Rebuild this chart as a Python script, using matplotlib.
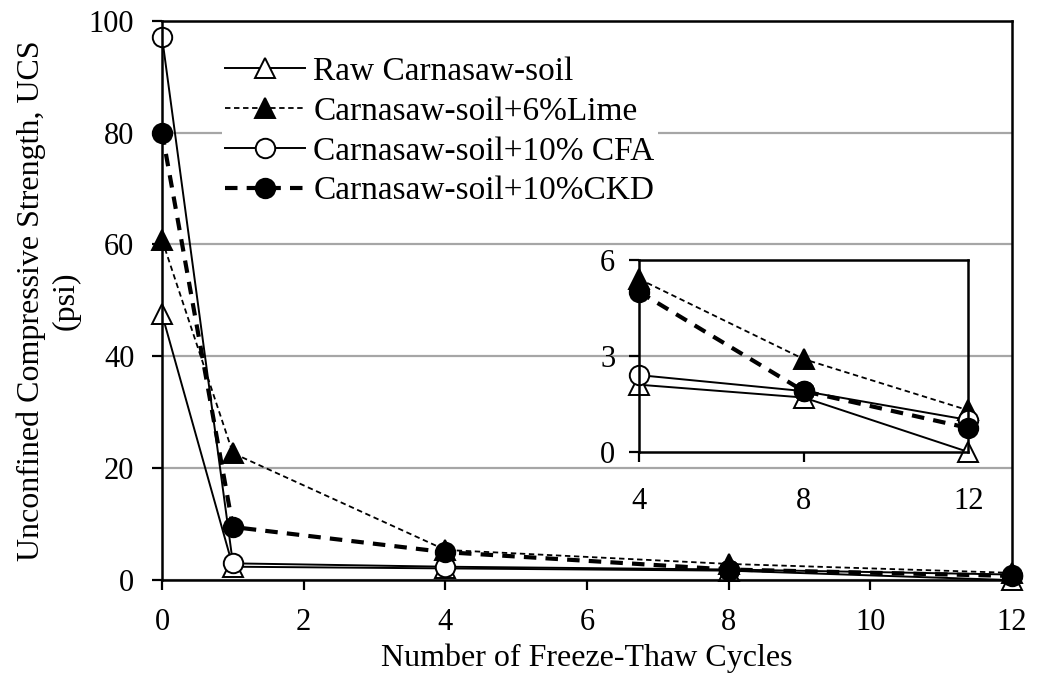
import matplotlib
matplotlib.use("Agg")
import matplotlib.pyplot as plt

# ---- data ----
cycles = [0, 1, 4, 8, 12]
raw_soil = [47.5, 2.4, 2.1, 1.7, 0.0]
lime_6 = [60.8, 22.7, 5.4, 2.9, 1.3]
cfa_10 = [97.0, 3.0, 2.4, 1.9, 1.0]
ckd_10 = [80.0, 9.5, 5.0, 1.9, 0.75]

labels = ["Raw Carnasaw-soil", "Carnasaw-soil+6%Lime",
          "Carnasaw-soil+10% CFA", "Carnasaw-soil+10%CKD"]
x_ticks = [0, 2, 4, 6, 8, 10, 12]
y_ticks = [0, 20, 40, 60, 80, 100]
inset_x_ticks = [4, 8, 12]
inset_y_ticks = [0, 3, 6]
inset_start = 2  # inset shows cycles 4..12

plt.rcParams['font.family'] = ['Liberation Serif', 'DejaVu Serif']

styles = [
    dict(color='black', lw=1.4, ls='-', marker='^', mfc='white', mec='black'),
    dict(color='black', lw=1.3, ls=(0, (3, 2)), marker='^', mfc='black', mec='black'),
    dict(color='black', lw=1.4, ls='-', marker='o', mfc='white', mec='black'),
    dict(color='black', lw=3.0, ls=(0, (3, 2.2)), marker='o', mfc='black', mec='black'),
]
series = [raw_soil, lime_6, cfa_10, ckd_10]


def draw(ax, start=0):
    for vals, st, lab in zip(series, styles, labels):
        ax.plot(cycles[start:], vals[start:], label=lab, ms=14, mew=1.4,
                clip_on=False, **st)


fig = plt.figure(figsize=(10.39, 6.89), dpi=100)
ax = fig.add_axes([0.156, 0.158, 0.818, 0.812])
draw(ax)
ax.set_xlim(0, 12)
ax.set_ylim(0, 100)
ax.set_xticks(x_ticks)
ax.set_yticks(y_ticks)
ax.yaxis.grid(True, color='#a6a6a6', lw=1.6)
ax.set_axisbelow(True)
for s in ax.spines.values():
    s.set_linewidth(1.8)
ax.tick_params(direction='out', length=7, width=1.6, labelsize=22)
ax.tick_params(axis='x', pad=13)
ax.tick_params(axis='y', pad=13)
ax.set_xlabel("Number of Freeze-Thaw Cycles", fontsize=23, labelpad=5)
ax.set_ylabel("Unconfined Compressive Strength, UCS\n(psi)", fontsize=23,
              labelpad=6, linespacing=1.25)

leg = ax.legend(loc='upper left', bbox_to_anchor=(0.07, 0.942), fontsize=24,
                frameon=True, facecolor='white', edgecolor='none', framealpha=1,
                numpoints=1, handlelength=2.4, handletextpad=0.25,
                labelspacing=0.28, borderpad=0.1, borderaxespad=0)

# inset zoom for cycles 4-12
axin = fig.add_axes([0.615, 0.344, 0.317, 0.279])
axin.patch.set_alpha(0)
draw(axin, inset_start)
axin.set_xlim(4, 12)
axin.set_ylim(0, 6)
axin.set_xticks(inset_x_ticks)
axin.set_yticks(inset_y_ticks)
for s in axin.spines.values():
    s.set_linewidth(1.8)
axin.tick_params(direction='out', length=7, width=1.6, labelsize=22)
axin.tick_params(axis='x', pad=18)
axin.tick_params(axis='y', pad=10)

fig.savefig("out.png", dpi=100)
